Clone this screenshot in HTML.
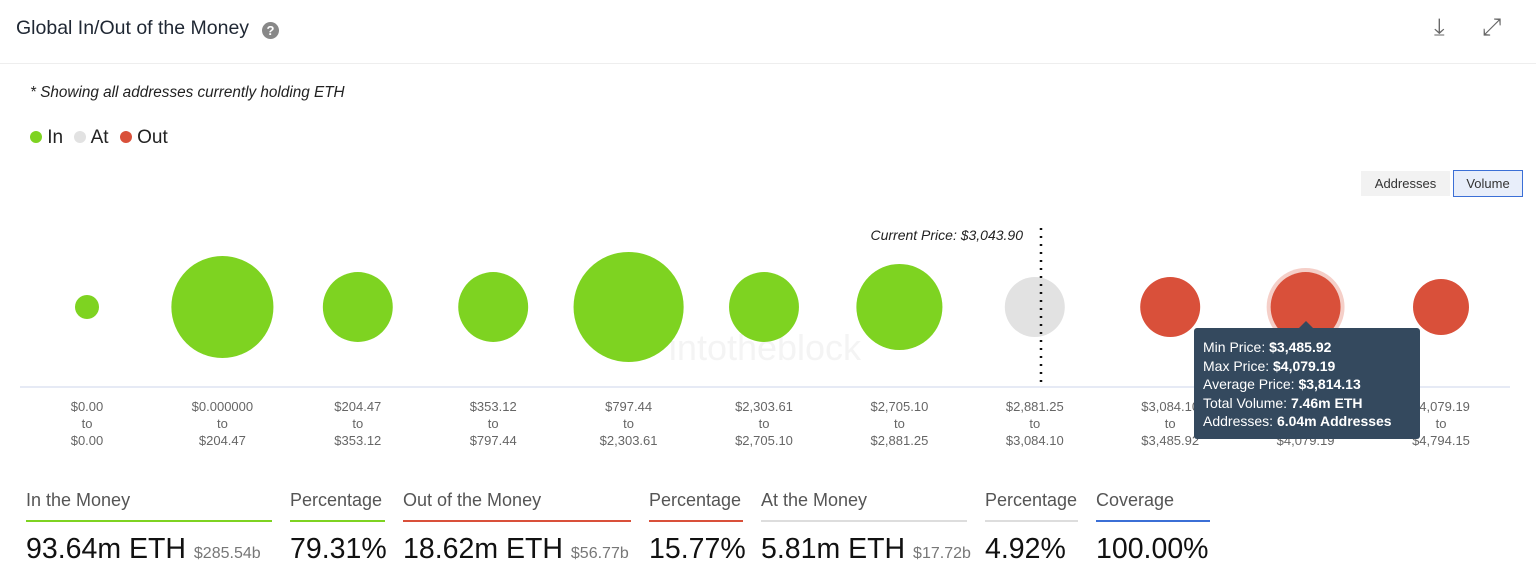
<!DOCTYPE html>
<html><head><meta charset="utf-8"><style>
body{margin:0;width:1536px;height:583px;background:#fff;font-family:"Liberation Sans",sans-serif;position:relative;overflow:hidden;color:#222}
.abs{position:absolute}
.stat{position:absolute;top:488px}
.stat .lab{font-size:18px;color:#555;height:32px;border-bottom:2px solid;line-height:24px}
.stat .val{font-size:28.5px;color:#111;margin-top:11px;white-space:nowrap}
.stat .val small{font-size:16px;color:#777}
</style></head><body>
<div class="abs" style="left:16px;top:17px;font-size:19.5px;color:#1f2733">Global In/Out of the Money</div>
<div class="abs" style="left:262px;top:22px;width:17px;height:17px;border-radius:50%;background:#888;color:#fff;font-size:13px;font-weight:bold;text-align:center;line-height:17px">?</div>
<div class="abs" style="left:1434px;top:14px;font-size:24px;color:#666">⤓</div>
<div class="abs" style="left:1482px;top:14px;font-size:24px;color:#666">⤢</div>
<div class="abs" style="left:0;top:63px;width:1536px;height:1px;background:#eee"></div>
<div class="abs" style="left:30px;top:84px;font-size:15.3px;font-style:italic;color:#222">* Showing all addresses currently holding ETH</div>
<div class="abs" style="left:30px;top:127px;font-size:19px;color:#222">
<span><span style="display:inline-block;width:12px;height:12px;border-radius:50%;background:#7ed321"></span> In</span>
<span style="margin-left:6px"><span style="display:inline-block;width:12px;height:12px;border-radius:50%;background:#e2e2e2"></span> At</span>
<span style="margin-left:6px"><span style="display:inline-block;width:12px;height:12px;border-radius:50%;background:#d9503a"></span> Out</span></div>
<div class="abs" style="left:1361px;top:171px;width:89px;height:25px;background:#f2f2f2;font-size:13px;color:#333;text-align:center;line-height:25px">Addresses</div>
<div class="abs" style="left:1453px;top:170px;width:68px;height:25px;background:#e8eefa;border:1px solid #3b6fd6;font-size:13px;color:#333;text-align:center;line-height:25px">Volume</div>
<svg class="abs" style="left:0;top:0" width="1536" height="470" id="svg"></svg>
<div class="stat" style="left:26px;width:246px"><div class="lab" style="border-color:#7ed321">In the Money</div><div class="val">93.64m ETH <small>$285.54b</small></div></div>
<div class="stat" style="left:290px;width:95px"><div class="lab" style="border-color:#7ed321">Percentage</div><div class="val">79.31%</div></div>
<div class="stat" style="left:403px;width:228px"><div class="lab" style="border-color:#d9503a">Out of the Money</div><div class="val">18.62m ETH <small>$56.77b</small></div></div>
<div class="stat" style="left:649px;width:94px"><div class="lab" style="border-color:#d9503a">Percentage</div><div class="val">15.77%</div></div>
<div class="stat" style="left:761px;width:206px"><div class="lab" style="border-color:#ddd">At the Money</div><div class="val">5.81m ETH <small>$17.72b</small></div></div>
<div class="stat" style="left:985px;width:93px"><div class="lab" style="border-color:#ddd">Percentage</div><div class="val">4.92%</div></div>
<div class="stat" style="left:1096px;width:114px"><div class="lab" style="border-color:#3b6fd6">Coverage</div><div class="val">100.00%</div></div>
<div class="abs" style="left:1194px;top:328px;width:226px;height:111px;background:#34495e;border-radius:3px;color:#fff;font-size:14px;line-height:18.5px;padding:10px 0 0 9px;box-sizing:border-box">
<div style="position:absolute;left:105px;top:-7px;width:0;height:0;border-left:7px solid transparent;border-right:7px solid transparent;border-bottom:7px solid #34495e"></div>
Min Price: <b>$3,485.92</b><br>Max Price: <b>$4,079.19</b><br>Average Price: <b>$3,814.13</b><br>Total Volume: <b>7.46m ETH</b><br>Addresses: <b>6.04m Addresses</b></div>
<script>
const lows=["$0.00","$0.000000","$204.47","$353.12","$797.44","$2,303.61","$2,705.10","$2,881.25","$3,084.10","$3,485.92","$4,079.19"];
const highs=["$0.00","$204.47","$353.12","$797.44","$2,303.61","$2,705.10","$2,881.25","$3,084.10","$3,485.92","$4,079.19","$4,794.15"];
const volumes=[0.88,15.9,7.46,7.46,18.5,7.46,11.3,5.49,5.49,7.46,4.78];
const status=["in","in","in","in","in","in","in","at","out","out","out"];
const currentPrice="$3,043.90";
const NS="http://www.w3.org/2000/svg",svg=document.getElementById('svg');
const colors={in:"#7ed321",at:"#e2e2e2",out:"#d9503a"};
const x=i=>87+i*135.4, cy=307, r=v=>12.8*Math.sqrt(v);
function mk(t,a){const e=document.createElementNS(NS,t);for(const k in a)e.setAttribute(k,a[k]);svg.appendChild(e);return e;}
const ax=mk('line',{x1:20,x2:1510,y1:387,y2:387,stroke:'#ccd6eb'});


const wm=mk('text',{x:765,y:360,'font-size':36,fill:'#f4f4f4','text-anchor':'middle','font-family':'Liberation Sans'});wm.textContent='intotheblock';


volumes.forEach((v,i)=>{
 if(i===9){const h=mk('circle',{cx:x(i),cy:cy,r:r(v)+4,fill:'#f5cfc8'});
  
  }
 const c=mk('circle',{cx:x(i),cy:cy,r:r(v),fill:colors[status[i]]});
 
 
 [lows[i],'to',highs[i]].forEach((s,j)=>{const t=mk('text',{x:x(i),y:411+j*17,'font-size':13,fill:'#666','text-anchor':'middle','font-family':'Liberation Sans'});t.textContent=s;
  
  });
});
const pl=mk('line',{x1:1041,x2:1041,y1:228,y2:386,stroke:'#111','stroke-width':2.5,'stroke-dasharray':'2,6'});


const pt=mk('text',{x:1023,y:240,'font-size':14,'font-style':'italic',fill:'#222','text-anchor':'end','font-family':'Liberation Sans'});pt.textContent='Current Price: '+currentPrice;


</script>
</body></html>
